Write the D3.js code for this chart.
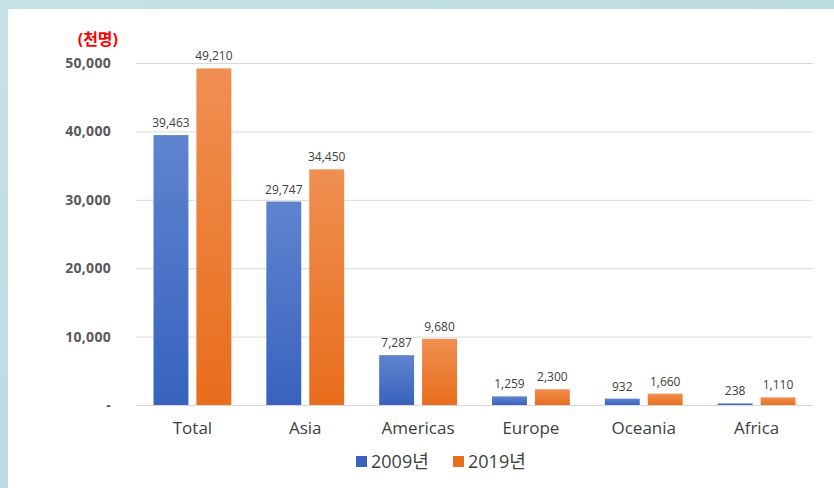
<!DOCTYPE html>
<html><head><meta charset="utf-8">
<script src="https://cdn.jsdelivr.net/npm/d3@7"></script>
<style>html,body{margin:0;padding:0;background:#fff;}svg{display:block;}</style>
</head><body>
<svg id="c" width="834" height="488"></svg>
<script>
const categories = ["Total","Asia","Americas","Europe","Oceania","Africa"];
const seriesNames = ["2009년","2019년"];
const values2009 = [39463, 29747, 7287, 1259, 932, 238];
const values2019 = [49210, 34450, 9680, 2300, 1660, 1110];
const yTicks = [0, 10000, 20000, 30000, 40000, 50000];
const unitLabel = "(천명)";

const svg = d3.select("#c");
const W = 834, H = 488;
const font = "'Open Sans','Noto Sans CJK KR',sans-serif";

// background frame
const defs = svg.append("defs");
const bg = defs.append("linearGradient").attr("id","bg").attr("x1","0").attr("y1","0").attr("x2","1").attr("y2","1");
bg.append("stop").attr("offset","0").attr("stop-color","#c6e1e6");
bg.append("stop").attr("offset","1").attr("stop-color","#b3d5dc");
svg.append("rect").attr("width",W).attr("height",H).attr("fill","url(#bg)");
svg.append("rect").attr("x",8).attr("y",9).attr("width",W-8).attr("height",H-9).attr("fill","#fff");

const colors = [["#5f84cf","#3763be"],["#f08f52","#e86d1c"]];
colors.forEach((c,i)=>{
  const g = defs.append("linearGradient").attr("id","g"+i).attr("x1","0").attr("y1","0").attr("x2","0").attr("y2","1");
  g.append("stop").attr("offset","0").attr("stop-color",c[0]);
  g.append("stop").attr("offset","1").attr("stop-color",c[1]);
});

const m = {l:136, r:813, t:63, b:405};
const y = d3.scaleLinear().domain([0,50000]).range([m.b,m.t]);
const x0 = d3.scaleBand().domain(categories).range([m.l,m.r]).paddingInner(0.31).paddingOuter(0.155);
const x1 = d3.scaleBand().domain([0,1]).range([0,x0.bandwidth()]).paddingInner(0.186);

// gridlines
const grid = svg.append("g").attr("transform",`translate(${m.l},0)`)
  .call(d3.axisLeft(y).tickValues(yTicks).tickSize(-(m.r-m.l)).tickFormat(""));
grid.select(".domain").remove();
grid.selectAll("line").attr("stroke","#d9d9d9").attr("stroke-width",1);

// y axis labels
const yAx = svg.append("g").attr("transform",`translate(${m.l-22},0)`)
  .call(d3.axisLeft(y).tickValues(yTicks).tickSize(0).tickFormat(d=> d===0 ? "-" : d3.format(",")(d)));
yAx.select(".domain").remove();
yAx.selectAll("text").attr("font-family",font).attr("font-size",14).attr("font-weight","bold").attr("fill","#595959").attr("dx",0).attr("letter-spacing",0.3);

svg.append("text").attr("x",118).attr("y",45).attr("text-anchor","end")
  .attr("font-family",font).attr("font-size",16).attr("font-weight","bold").attr("fill","#ff0000").text(unitLabel);

const data = categories.map((c,i)=>({c, v:[values2009[i],values2019[i]]}));
const groups = svg.append("g").selectAll("g").data(data).join("g")
  .attr("transform",d=>`translate(${x0(d.c)},0)`);
groups.selectAll("rect").data(d=>d.v.map((v,i)=>({v,i}))).join("rect")
  .attr("x",d=>x1(d.i)).attr("width",x1.bandwidth())
  .attr("y",d=>y(d.v)).attr("height",d=>m.b-y(d.v))
  .attr("fill",d=>`url(#g${d.i})`);
groups.selectAll("text.lbl").data(d=>d.v.map((v,i)=>({v,i}))).join("text").attr("class","lbl")
  .attr("x",d=>x1(d.i)+x1.bandwidth()/2).attr("y",d=>y(d.v)-8)
  .attr("text-anchor","middle").attr("font-family",font).attr("font-size",12).attr("fill","#404040")
  .text(d=>d3.format(",")(d.v));

// x axis
const xAx = svg.append("g").attr("transform",`translate(0,${m.b})`)
  .call(d3.axisBottom(x0).tickSize(0).tickPadding(17));
xAx.select(".domain").remove();
xAx.selectAll("text").attr("font-family",font).attr("font-size",17).attr("fill","#404040");

// legend
const leg = [{n:seriesNames[0],x:356,i:0},{n:seriesNames[1],x:453,i:1}];
const lg = svg.append("g").selectAll("g").data(leg).join("g").attr("transform",d=>`translate(${d.x},461)`);
lg.append("rect").attr("x",0).attr("y",-5).attr("width",11).attr("height",11).attr("fill",d=>colors[d.i][1]);
lg.append("text").attr("x",15).attr("y",7).attr("font-family",font).attr("font-size",18).attr("fill","#404040").text(d=>d.n);
</script>
</body></html>
